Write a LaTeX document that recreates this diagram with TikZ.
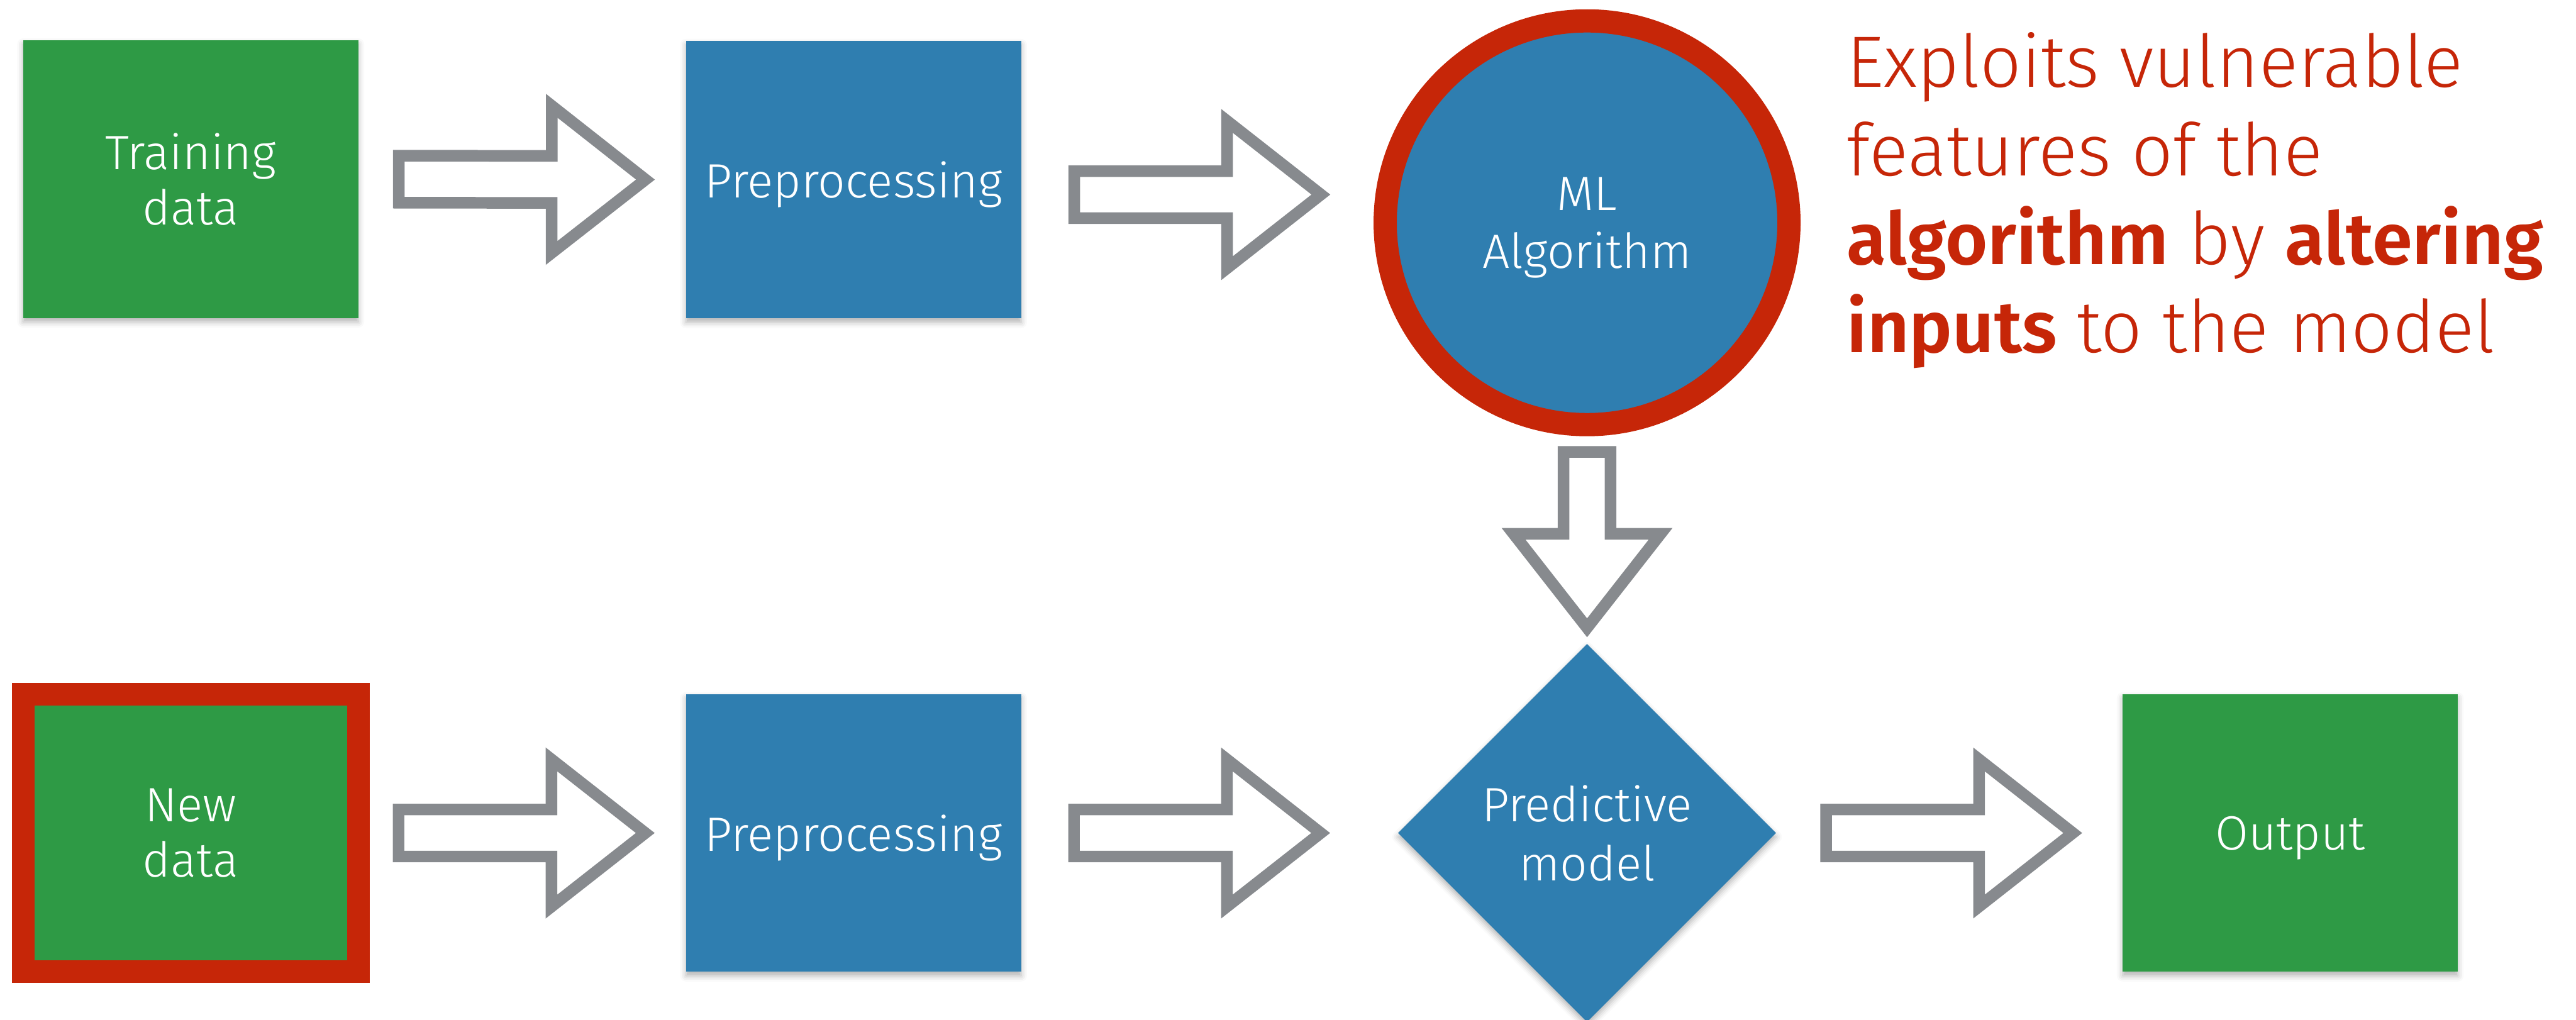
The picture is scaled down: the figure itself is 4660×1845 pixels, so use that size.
\documentclass[tikz,border=0pt]{standalone}
\usepackage{fontspec}
\setmainfont{Fira Sans Light}[BoldFont={Fira Sans SemiBold}]
\usetikzlibrary{shapes.geometric,calc,shadows.blur}

\definecolor{boxgreen}{RGB}{46,154,69}
\definecolor{boxblue}{RGB}{47,126,176}
\definecolor{alertred}{RGB}{198,38,8}
\definecolor{arrowgray}{RGB}{135,138,142}

\tikzset{
  softshadow/.style={blur shadow={shadow xshift=0pt, shadow yshift=-2pt,
      shadow blur radius=3pt, shadow opacity=30}},
  cardtext/.style={text=white, align=center, text depth=0pt,
      font=\fontsize{24.8}{28.45}\selectfont},
  card/.style={rectangle, minimum width=6.06cm, minimum height=5.02cm,
      inner sep=0pt, cardtext, softshadow},
  datacard/.style={card, fill=boxgreen},
  stagecard/.style={card, fill=boxblue},
  hollowarrow/.style={draw=arrowgray, fill=white, line width=0.21cm,
      miter limit=10},
}

% Outlined block arrow centred between two anchors.
% #1 start, #2 end, #3 half length, #4 signed offset of the head base from the centre
\newcommand\blockarrow[4]{%
  \coordinate (ba-m) at ($(#1)!0.5!(#2)$);
  \coordinate (ba-tail) at ($(ba-m)!-#3!(#2)$);
  \coordinate (ba-base) at ($(ba-m)!#4!(#2)$);
  \coordinate (ba-tip) at ($(ba-m)!#3!(#2)$);
  \draw[hollowarrow]
    ($(ba-tail)!0.425cm!90:(ba-tip)$) -- ($(ba-base)!0.425cm!90:(ba-tip)$)
    -- ($(ba-base)!1.33cm!90:(ba-tip)$) -- (ba-tip)
    -- ($(ba-base)!1.33cm!-90:(ba-tip)$) -- ($(ba-base)!0.425cm!-90:(ba-tip)$)
    -- ($(ba-tail)!0.425cm!-90:(ba-tip)$) -- cycle;
}

\begin{document}
\begin{tikzpicture}[x=0.01cm, y=-0.01cm]
  \useasboundingbox (0,0) rectangle (4660,1845);

  % training pipeline
  \node[datacard] (train) at (345,324) {Training\\data};
  \node[stagecard] (pre1) at (1544,325) {Preprocessing};
  \node[circle, minimum size=7.3cm, inner sep=0pt, fill=boxblue,
        draw=alertred, line width=0.42cm, softshadow,
        cardtext, font=\fontsize{24.8}{29.9}\selectfont] (ml) at (2871,403) {ML\\Algorithm};

  % prediction pipeline
  \node[datacard, draw=alertred, line width=0.41cm, outer sep=0pt] (newd) at (345,1507) {New\\data};
  \node[stagecard] (pre2) at (1544,1507) {Preprocessing};
  \node[diamond, minimum width=6.84cm, minimum height=6.84cm, inner sep=0pt,
        fill=boxblue, softshadow, cardtext,
        font=\fontsize{24.8}{30.7}\selectfont] (pm) at (2871,1507) {Predictive\\model};
  \node[datacard] (out) at (4143,1507) {Output};

  % attack note
  \node[anchor=base west, inner sep=0pt, text=alertred,
        font=\fontsize{37.4}{45.5}\selectfont] (attack) at (3340,158)
    {\begin{tabular}[t]{@{}l@{}}Exploits vulnerable\\features of the\\
      \textbf{algorithm} by \textbf{altering}\\\textbf{inputs} to the model\end{tabular}};

  % arrow ends that sit off the node centre lines
  \coordinate (pre1-out) at ($(pre1.east)+(0,27)$);
  \coordinate (ml-in) at (pre1-out -| ml.west);
  \coordinate (pm-in) at ($(pm.west)+(-44,0)$);

  % flow arrows
  \blockarrow{train.east}{pre1.west}{2.23cm}{0.535cm}
  \blockarrow{pre1-out}{ml-in}{2.23cm}{0.535cm}
  \blockarrow{ml.south}{pm.north}{1.59cm}{-0.11cm}
  \blockarrow{newd.east}{pre2.west}{2.23cm}{0.535cm}
  \blockarrow{pre2.east}{pm-in}{2.23cm}{0.535cm}
  \blockarrow{pm.east}{out.west}{2.23cm}{0.535cm}
\end{tikzpicture}
\end{document}
